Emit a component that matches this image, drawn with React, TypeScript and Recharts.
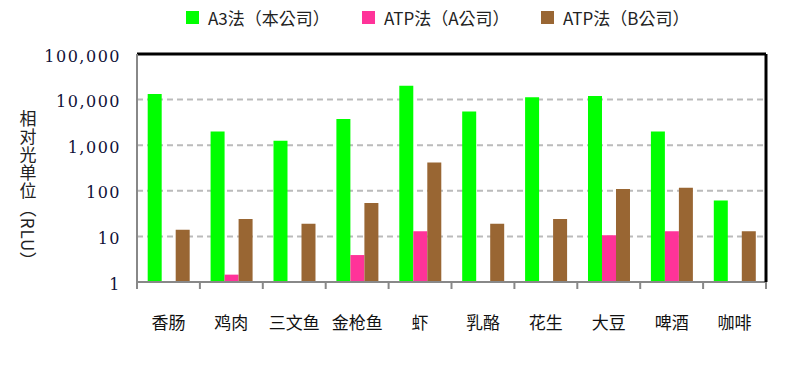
import React from "react";
import { BarChart, Bar, XAxis, YAxis, CartesianGrid } from "recharts";

const categories = ["香肠", "鸡肉", "三文鱼", "金枪鱼", "虾", "乳酪", "花生", "大豆", "啤酒", "咖啡"];
const a3Values = [13200, 2000, 1250, 3750, 20000, 5500, 11200, 12000, 2000, 61];
const atpAValues = [null, 1.45, null, 3.9, 13, null, null, 10.6, 13, null];
const atpBValues = [14, 24, 19, 54, 420, 19, 24, 110, 116, 13];
const seriesNames = ["A3法（本公司）", "ATP法（A公司）", "ATP法（B公司）"];
const seriesColors = ["#00ff00", "#ff3399", "#996633"];
const yTicks = [1, 10, 100, 1000, 10000, 100000];
const yAxisTitle = "相对光单位（RLU）";

const data = categories.map((name, i) => ({
  name,
  a3: a3Values[i],
  atpA: atpAValues[i],
  atpB: atpBValues[i],
}));

const keys = ["a3", "atpA", "atpB"];

const CJK = "'Noto Sans CJK SC', 'Noto Sans', sans-serif";
const CJK_TC = "'Noto Sans CJK TC', 'Noto Sans CJK SC', sans-serif";

const legendLefts = [186, 362, 541];

const LegendBlock = () => (
  <div style={{ position: "absolute", left: 0, top: 0, width: 801, height: 36 }}>
    {seriesNames.map((n, i) => (
      <div
        key={n}
        style={{
          position: "absolute",
          left: legendLefts[i],
          top: 5,
          display: "flex",
          alignItems: "center",
          fontFamily: CJK_TC,
          fontSize: 17,
          color: "#222",
          whiteSpace: "nowrap",
        }}
      >
        <span style={{ display: "inline-block", width: 13, height: 13, background: seriesColors[i], marginRight: 9 }} />
        <span>{n}</span>
      </div>
    ))}
  </div>
);

const YTick = (props: any) => {
  const { x, y, payload } = props;
  return (
    <text
      x={x - 8}
      y={y + 2}
      textAnchor="end"
      dominantBaseline="central"
      fontFamily="DejaVu Serif"
      fontSize={16}
      letterSpacing={1.5}
      fill="#101038"
    >
      {Number(payload.value).toLocaleString("en-US")}
    </text>
  );
};

const XTick = (props: any) => {
  const { x, y, payload, index, visibleTicksCount } = props;
  const half = payload && typeof payload.offset === "number" && payload.offset > 0 ? payload.offset : 31.45;
  const isLast = index === (visibleTicksCount ?? categories.length) - 1;
  return (
    <g>
      <line x1={x - half} x2={x - half} y1={y} y2={y + 7} stroke="#888" strokeWidth={2} />
      {isLast && <line x1={x + half} x2={x + half} y1={y} y2={y + 7} stroke="#888" strokeWidth={2} />}
      <text x={x} y={y + 39} textAnchor="middle" dominantBaseline="central" fontFamily={CJK} fontSize={17} fill="#111">
        {payload.value}
      </text>
    </g>
  );
};

export default function App() {
  return (
    <div style={{ position: "absolute", left: 0, top: 0, width: 801, height: 374, background: "#fff" }}>
      <BarChart
        width={801}
        height={374}
        data={data}
        margin={{ top: 53, right: 34, bottom: 52, left: 0 }}
        barCategoryGap="17%"
        barGap={0}
      >
        <CartesianGrid vertical={false} stroke="#bbb" strokeWidth={2} strokeDasharray="6 4" />
        <XAxis
          xAxisId={0}
          dataKey="name"
          height={40}
          axisLine={{ stroke: "#888", strokeWidth: 2 }}
          tickLine={false}
          tickSize={0}
          tickMargin={0}
          interval={0}
          tick={<XTick />}
        />
        <XAxis
          xAxisId="top"
          dataKey="name"
          orientation="top"
          height={1}
          axisLine={{ stroke: "#000", strokeWidth: 3 }}
          tick={false}
          tickLine={false}
        />
        <YAxis
          yAxisId={0}
          scale="log"
          domain={[1, 100000]}
          ticks={yTicks}
          allowDataOverflow
          width={137}
          axisLine={{ stroke: "#888", strokeWidth: 2 }}
          tickLine={false}
          tick={<YTick />}
          interval={0}
          label={{
            value: yAxisTitle,
            position: "insideLeft",
            content: (p: any) => {
              const vb = p.viewBox || {};
              const cy = (vb.y ?? 54) + (vb.height ?? 228) / 2 + 22;
              return (
                <text
                  x={28}
                  y={cy}
                  textAnchor="middle"
                  fontFamily={CJK}
                  fontSize={17}
                  letterSpacing={1}
                  fill="#222"
                  style={{ writingMode: "vertical-rl" as any }}
                >
                  {yAxisTitle}
                </text>
              );
            },
          }}
        />
        <YAxis
          yAxisId="right"
          orientation="right"
          scale="log"
          domain={[1, 100000]}
          allowDataOverflow
          width={1}
          axisLine={{ stroke: "#000", strokeWidth: 3 }}
          tick={false}
          tickLine={false}
        />
        {keys.map((k, i) => (
          <Bar
            key={k}
            dataKey={k}
            name={seriesNames[i]}
            fill={seriesColors[i]}
            xAxisId={0}
            yAxisId={0}
            isAnimationActive={false}
          />
        ))}
      </BarChart>
      <LegendBlock />
    </div>
  );
}
